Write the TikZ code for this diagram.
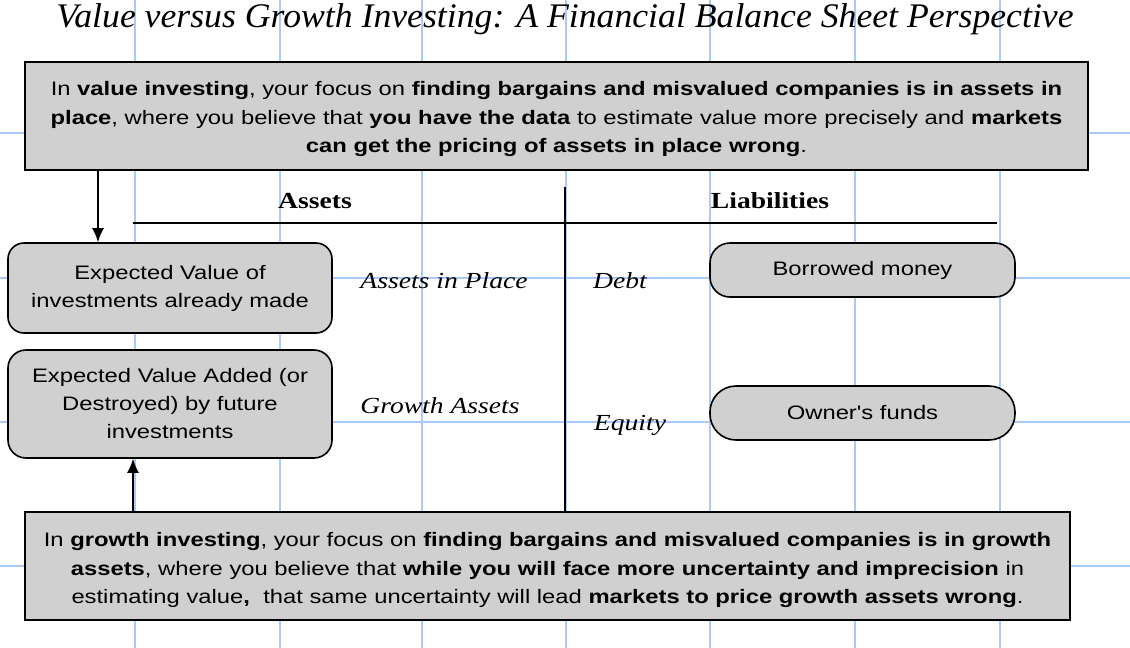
\documentclass[tikz,border=0pt]{standalone}
\usepackage{fontspec}
\setmainfont[FakeStretch=1.2]{Liberation Serif}
\newfontfamily\titlef[FakeStretch=1.035]{Liberation Serif}
\newfontfamily\arialf[FakeStretch=1.22]{Liberation Sans}
\usetikzlibrary{arrows.meta}
\definecolor{gridblue}{HTML}{A9C9F7}
\definecolor{boxgray}{HTML}{D0D0D0}
\begin{document}
\begin{tikzpicture}[x=1pt,y=-1pt,
  gridline/.style={gridblue,line width=1.5pt},
  bigbox/.style={draw=black,line width=2pt,fill=boxgray,inner sep=0pt},
  bigtext/.style={inner sep=0pt,align=center,font=\arialf\fontsize{19.5}{28.5}\selectfont},
  rbox/.style={draw=black,line width=1.6pt,fill=boxgray,inner sep=0pt,align=center,
     font=\arialf\fontsize{19.5}{28}\selectfont},
  lab/.style={font=\itshape\fontsize{23}{26}\selectfont,inner sep=0pt},
  hdr/.style={font=\bfseries\fontsize{23}{26}\selectfont,inner sep=0pt},
  arr/.style={-{Latex[length=14pt,width=12pt]},line width=1.8pt},
  rule/.style={line width=1.8pt}
]
\useasboundingbox (0,0) rectangle (1130,648);
% grid
\foreach \yy in {133,278,422,566} \draw[gridline] (0,\yy) -- (1130,\yy);
\foreach \xx in {135,280,422,566,710,855,1000} \draw[gridline] (\xx,0) -- (\xx,648);
% title
\node[font=\titlef\itshape\fontsize{34.5}{38}\selectfont,inner sep=0pt,anchor=base] (title) at (565,27) {Value versus Growth Investing: A Financial Balance Sheet Perspective};
% top box
\node[bigbox,minimum width=1063pt,minimum height=108pt] (topbox) at (556.5,116) {};
\node[bigtext] (toptext) at (556.5,119)
 {In \textbf{value investing}, your focus on \textbf{finding bargains and misvalued companies is in assets in}\\
  \textbf{place}, where you believe that \textbf{you have the data} to estimate value more precisely and \textbf{markets}\\
  \textbf{can get the pricing of assets in place wrong}.};
% headers
\node[hdr] (assets) at (315,201) {Assets};
\node[hdr] (liab) at (770,201) {Liabilities};
\coordinate (hl) at (133,223);
\coordinate (hr) at (997,223);
\draw[rule] (hl) -- (hr);
% left boxes
\node[rbox,rounded corners=16pt,minimum width=324pt,minimum height=90pt] (ev1) at (170,288)
 {Expected Value of\\investments already made};
\node[rbox,rounded corners=18pt,minimum width=324pt,minimum height=108pt] (ev2) at (170,404)
 {Expected Value Added (or\\Destroyed) by future\\investments};
% right boxes
\node[rbox,rounded corners=20pt,minimum width=305pt,minimum height=54pt] (borrow) at (862.5,270)
 {Borrowed money};
\node[rbox,rounded corners=26pt,minimum width=305pt,minimum height=54pt] (owner) at (862.5,413)
 {Owner's funds};
% labels
\node[lab] (aip) at (444,281) {Assets in Place};
\node[lab] (ga) at (440,406) {Growth Assets};
\node[lab] (debt) at (620,281) {Debt};
\node[lab] (eq) at (630,425) {Equity};
% bottom box
\node[bigbox,minimum width=1045pt,minimum height=108pt] (botbox) at (547.5,566) {};
\node[bigtext] (bottext) at (547.5,570)
 {In \textbf{growth investing}, your focus on \textbf{finding bargains and misvalued companies is in growth}\\
  \textbf{assets}, where you believe that \textbf{while you will face more uncertainty and imprecision} in\\
  estimating value\textbf{,}\ \ that same uncertainty will lead \textbf{markets to price growth assets wrong}.};
% divider
\coordinate (vtop) at (565,187);
\draw[line width=1.5pt] (vtop) -- (botbox.north -| vtop);
% arrows
\coordinate (a1) at (98,0);
\coordinate (a2) at (133,0);
\draw[arr] (topbox.south -| a1) -- (ev1.north -| a1);
\draw[arr] (botbox.north -| a2) -- (ev2.south -| a2);
\end{tikzpicture}
\end{document}
